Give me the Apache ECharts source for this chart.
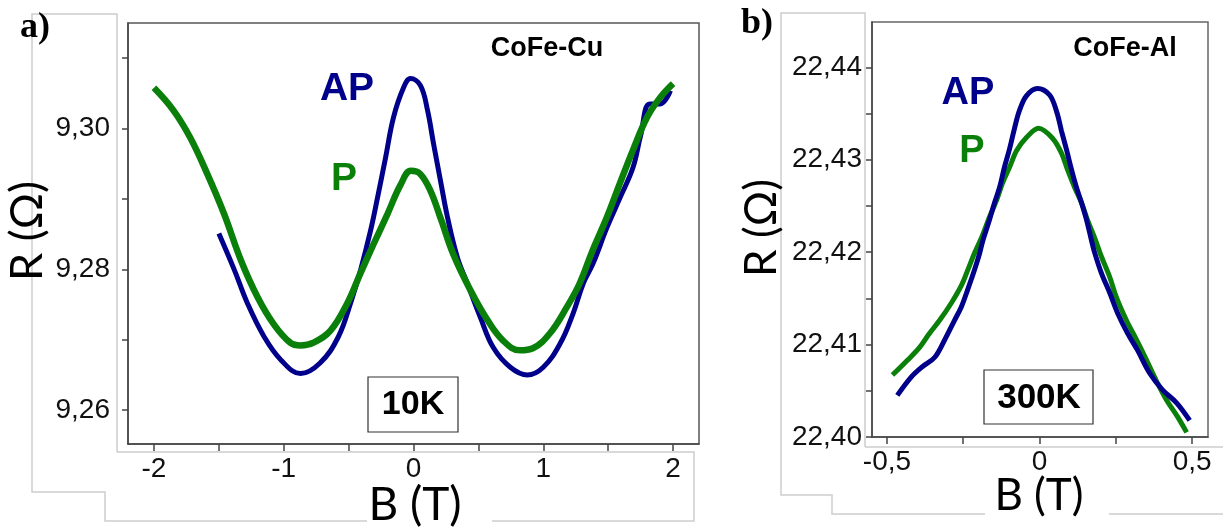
<!DOCTYPE html>
<html>
<head>
<meta charset="utf-8">
<script src="https://cdn.jsdelivr.net/npm/echarts@6/dist/echarts.min.js"></script>
<style>
html,body{margin:0;padding:0;background:#fff;}
#chart{width:1223px;height:528px;}
</style>
</head>
<body>
<div id="chart"></div>
<script>
// ---- Panel a) CoFe-Cu, 10K ----
const aB_P = [-2.0,-1.85,-1.72,-1.59,-1.46,-1.33,-1.2,-1.08,-0.95,-0.87,-0.77,-0.64,-0.51,-0.41,-0.31,-0.2,-0.1,-0.02,0.05,0.13,0.21,0.31,0.44,0.57,0.69,0.82,0.92,1.05,1.18,1.28,1.38,1.49,1.59,1.69,1.8,1.9,2.0];
const aR_P = [9.3058,9.3026,9.2987,9.2936,9.2879,9.2813,9.2760,9.2723,9.2696,9.2692,9.2696,9.2713,9.2752,9.2794,9.2835,9.2879,9.2920,9.2940,9.2936,9.2912,9.2872,9.2820,9.2770,9.2728,9.2699,9.2685,9.2688,9.2709,9.2746,9.2780,9.2827,9.2874,9.2922,9.2969,9.3016,9.3044,9.3064];
const aB_AP = [-1.5,-1.38,-1.28,-1.15,-1.02,-0.87,-0.72,-0.58,-0.485,-0.408,-0.331,-0.277,-0.215,-0.154,-0.077,-0.023,0.054,0.108,0.154,0.208,0.262,0.338,0.415,0.515,0.615,0.746,0.877,1.0,1.131,1.231,1.308,1.385,1.492,1.592,1.692,1.75,1.82,1.9,1.98];
const aR_AP = [9.2851,9.2799,9.2752,9.2704,9.2671,9.2652,9.2667,9.2704,9.2752,9.2799,9.2855,9.2902,9.2959,9.3016,9.3058,9.3071,9.3061,9.3026,9.2979,9.2926,9.2874,9.2817,9.2780,9.2732,9.2689,9.2661,9.2650,9.2661,9.2695,9.2738,9.2780,9.2809,9.2860,9.2902,9.2945,9.2990,9.3035,9.3035,9.3054];
const aXLabels = [-2,-1,0,1,2];
const aXTickMarks = [-2,-1.5,-1,-0.5,0,0.5,1,1.5,2];
const aYLabels = [9.26,9.28,9.30];
const aYTickMarks = [9.26,9.27,9.28,9.29,9.30,9.31];

// ---- Panel b) CoFe-Al, 300K ----
const bB_AP = [-0.466,-0.420,-0.384,-0.344,-0.311,-0.279,-0.256,-0.236,-0.213,-0.197,-0.187,-0.164,-0.148,-0.131,-0.115,-0.098,-0.082,-0.066,-0.043,-0.007,0.033,0.056,0.072,0.089,0.105,0.121,0.138,0.154,0.170,0.180,0.203,0.230,0.256,0.289,0.321,0.361,0.403,0.449,0.492];
const bR_AP = [22.4045,22.4065,22.4076,22.4086,22.4105,22.4126,22.4141,22.4159,22.4181,22.4198,22.4211,22.4235,22.4253,22.4270,22.4292,22.4312,22.4334,22.4353,22.4369,22.4377,22.4370,22.4352,22.4331,22.4310,22.4289,22.4270,22.4253,22.4235,22.4213,22.4200,22.4177,22.4156,22.4134,22.4112,22.4094,22.4069,22.4051,22.4037,22.4018];
const bB_P = [-0.482,-0.433,-0.393,-0.361,-0.328,-0.289,-0.256,-0.236,-0.213,-0.187,-0.164,-0.141,-0.121,-0.098,-0.075,-0.043,-0.003,0.043,0.072,0.092,0.115,0.138,0.157,0.180,0.203,0.230,0.252,0.285,0.318,0.351,0.384,0.416,0.452,0.482];
const bR_P = [22.4067,22.4083,22.4097,22.4112,22.4126,22.4145,22.4164,22.4180,22.4199,22.4218,22.4238,22.4256,22.4275,22.4292,22.4310,22.4324,22.4334,22.4323,22.4307,22.4289,22.4270,22.4253,22.4235,22.4216,22.4195,22.4173,22.4151,22.4126,22.4105,22.4083,22.4060,22.4040,22.4022,22.4005];
const bXLabels = [-0.5,0,0.5];
const bXTickMarks = [-0.5,-0.25,0,0.25,0.5];
const bYLabels = [22.40,22.41,22.42,22.43,22.44];
const bYTickMarks = [22.40,22.405,22.41,22.415,22.42,22.425,22.43,22.435,22.44];

const BLUE = '#00008a';
const GREEN = '#0a800a';
const AXC = '#444';
const TICKFONT = 'Liberation Sans, Arial, sans-serif';
const TITLEFONT = 'Lato, "Open Sans", sans-serif';

function zip(xs, ys){ return xs.map((x,i)=>[x, ys[i]]); }
function comma(v, d){ return (Math.abs(v) < 1e-9 ? '0' : v.toFixed(d)).replace('.', ','); }

function xAxisCfg(grid, min, max, labels, ticks, fmt){
  return {
    gridIndex: grid, type: 'value', min: min, max: max,
    axisLine: {show: true, onZero: false, lineStyle: {color: AXC, width: 1.5}},
    axisTick: {show: true, length: 7, customValues: ticks, lineStyle: {color: AXC, width: 1.5}},
    axisLabel: {customValues: labels, formatter: fmt, fontSize: 28, color: '#111', margin: 11, fontFamily: TICKFONT},
    splitLine: {show: false}
  };
}
function yAxisCfg(grid, min, max, labels, ticks, fmt, margin){
  return {
    gridIndex: grid, type: 'value', min: min, max: max,
    axisLine: {show: true, onZero: false, lineStyle: {color: AXC, width: 1.5}},
    axisTick: {show: true, length: 6, customValues: ticks, lineStyle: {color: AXC, width: 1.5}},
    axisLabel: {customValues: labels, formatter: fmt, fontSize: 28, color: '#111', margin: margin, fontFamily: TICKFONT},
    splitLine: {show: false}
  };
}

const GRAY = '#cdcdcd';
function pl(points){ return {type:'polyline', silent:true, shape:{points: points}, style:{stroke: GRAY, fill: null, lineWidth: 1.5}, z: 0}; }
function txt(x, y, text, font, fill, extra){
  return Object.assign({type:'text', x: x, y: y, silent: true, z: 10,
    style: {text: text, font: font, fill: fill, textAlign: 'center', textVerticalAlign: 'middle'}}, extra || {});
}
function box(x, y, w, h){ return {type:'rect', silent:true, shape:{x:x, y:y, width:w, height:h}, style:{stroke:'#333', fill:'#fff', lineWidth:1.2}, z: 9}; }

const chart = echarts.init(document.getElementById('chart'), null, {renderer: 'canvas'});
chart.setOption({
  backgroundColor: '#fff',
  animation: false,
  grid: [
    {left: 128, top: 23, width: 571, height: 421, show: true, borderColor: '#555', borderWidth: 1.5, backgroundColor: 'transparent'},
    {left: 872, top: 22, width: 336, height: 415, show: true, borderColor: '#666', borderWidth: 1.5, backgroundColor: 'transparent'}
  ],
  xAxis: [
    xAxisCfg(0, -2.2, 2.2, aXLabels, aXTickMarks, v => String(Math.round(v))),
    xAxisCfg(1, -0.549, 0.552, bXLabels, bXTickMarks, v => comma(v, 1))
  ],
  yAxis: [
    yAxisCfg(0, 9.2552, 9.315, aYLabels, aYTickMarks, v => comma(v, 2), 18),
    yAxisCfg(1, 22.40, 22.4449, bYLabels, bYTickMarks, v => comma(v, 2), 10)
  ],
  series: [
    {name: 'AP', type: 'line', xAxisIndex: 0, yAxisIndex: 0, data: zip(aB_AP, aR_AP), showSymbol: false, smooth: 0.4,
     lineStyle: {color: BLUE, width: 5}, itemStyle: {color: BLUE}, z: 2},
    {name: 'P', type: 'line', xAxisIndex: 0, yAxisIndex: 0, data: zip(aB_P, aR_P), showSymbol: false, smooth: 0.4,
     lineStyle: {color: GREEN, width: 6.5}, itemStyle: {color: GREEN}, z: 3},
    {name: 'P', type: 'line', xAxisIndex: 1, yAxisIndex: 1, data: zip(bB_P, bR_P), showSymbol: false, smooth: 0.35,
     lineStyle: {color: GREEN, width: 5}, itemStyle: {color: GREEN}, z: 2},
    {name: 'AP', type: 'line', xAxisIndex: 1, yAxisIndex: 1, data: zip(bB_AP, bR_AP), showSymbol: false, smooth: 0.35,
     lineStyle: {color: BLUE, width: 5}, itemStyle: {color: BLUE}, z: 3}
  ],
  graphic: [
    // light gray outline frames (panel a)
    pl([[117,452],[117,14],[32,14],[32,492],[105,492],[105,521],[367,521]]),
    pl([[492,521],[694,521],[694,452],[117,452]]),
    // panel b
    pl([[865,447],[865,13],[781,13],[781,495],[832,495],[832,514],[985,514]]),
    pl([[1109,514],[1223,514]]),
    pl([[865,447],[1223,447]]),
    // panel labels
    {type:'text', x: 20, y: 10, silent: true, style: {text: 'a)', font: 'bold 36px "Liberation Serif", "Times New Roman", serif', fill: '#000', textAlign: 'left', textVerticalAlign: 'top'}},
    {type:'text', x: 741, y: 6, silent: true, style: {text: 'b)', font: 'bold 36px "Liberation Serif", "Times New Roman", serif', fill: '#000', textAlign: 'left', textVerticalAlign: 'top'}},
    // axis titles
    txt(415, 505, 'B (T)', '46px ' + TITLEFONT, '#000'),
    txt(1039, 496, 'B (T)', '44px ' + TITLEFONT, '#000'),
    txt(27, 231, 'R (Ω)', '45px ' + TITLEFONT, '#000', {rotation: Math.PI / 2}),
    txt(762, 228, 'R (Ω)', '44px ' + TITLEFONT, '#000', {rotation: Math.PI / 2}),
    // annotations
    txt(547, 49, 'CoFe-Cu', 'bold 27px ' + TICKFONT, '#000'),
    txt(1125, 49, 'CoFe-Al', 'bold 27px ' + TICKFONT, '#000'),
    txt(347, 89, 'AP', 'bold 39px ' + TICKFONT, BLUE),
    txt(344, 179, 'P', 'bold 39px ' + TICKFONT, GREEN),
    txt(968, 94, 'AP', 'bold 38px ' + TICKFONT, BLUE),
    txt(972, 152, 'P', 'bold 38px ' + TICKFONT, GREEN),
    box(368, 377, 90, 55),
    txt(413, 405, '10K', 'bold 34px ' + TICKFONT, '#000'),
    box(984, 370, 109, 54),
    txt(1039, 398, '300K', 'bold 35px ' + TICKFONT, '#000')
  ]
});
</script>
</body>
</html>
